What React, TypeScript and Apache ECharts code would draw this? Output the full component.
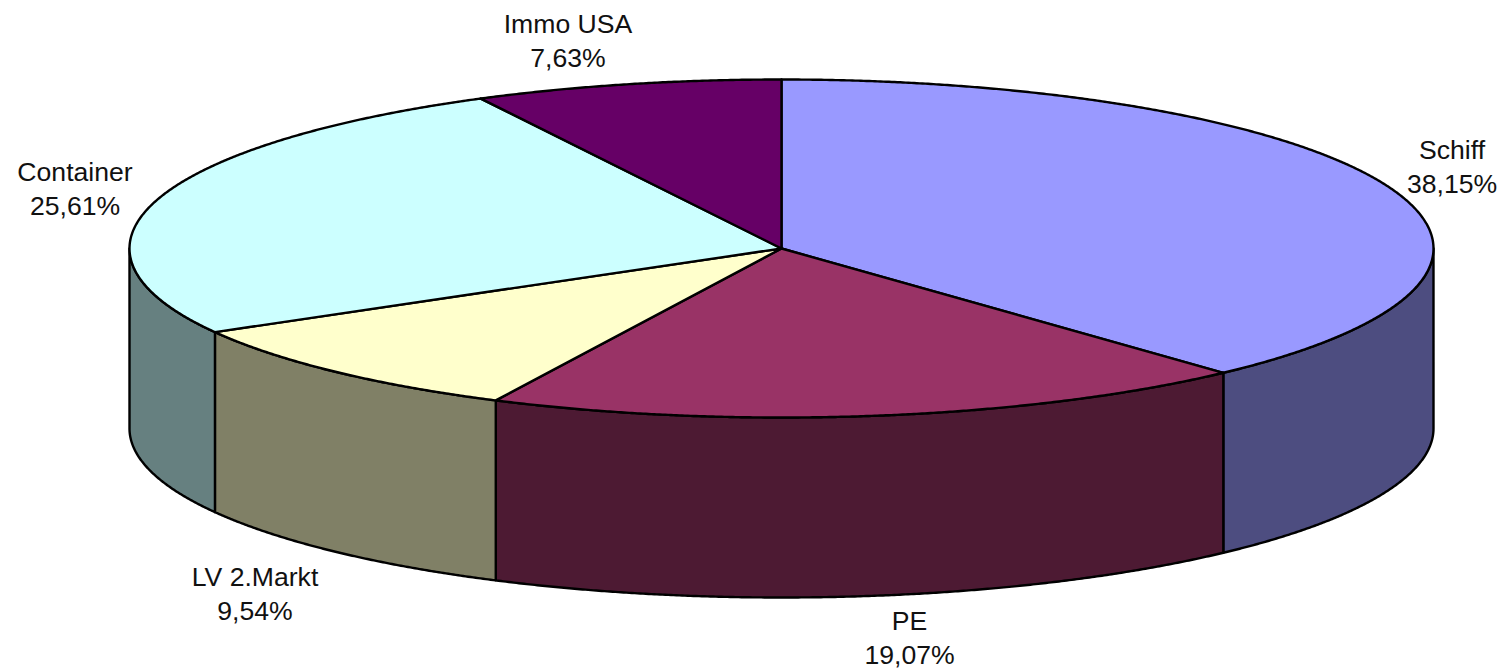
import React, { useEffect, useRef } from "react";
import * as echarts from "echarts";

const categories = ["Schiff", "PE", "LV 2.Markt", "Container", "Immo USA"];
const shares = [38.15, 19.07, 9.54, 25.61, 7.63];
const shareLabels = ["38,15%", "19,07%", "9,54%", "25,61%", "7,63%"];
const topColors = ["#9999FF", "#993366", "#FFFFCC", "#CCFFFF", "#660066"];
const sideColors = ["#4D4D80", "#4D1A33", "#808066", "#668080", "#330033"];
const labelCenters = [
  [1452, 167],
  [909.5, 638],
  [255, 594],
  [75, 189],
  [568, 41],
];

const CX = 781.5;
const CY = 248.5;
const RX = 652;
const RY = 169;
const DEPTH = 180;
const FONT = '"Liberation Sans", Arial, sans-serif';
const total = shares.reduce((a, b) => a + b, 0);

const pt = (turn: number, dy = 0) => {
  const t = turn * 2 * Math.PI;
  return [CX + RX * Math.sin(t), CY - RY * Math.cos(t) + dy];
};

// Points along the rim between two turns (fractions of the full pie).
const rim = (a: number, b: number, dy = 0) => {
  const n = Math.max(2, Math.ceil(Math.abs(b - a) * 1440));
  const out: number[][] = [];
  for (let k = 0; k <= n; k++) out.push(pt(a + ((b - a) * k) / n, dy));
  return out;
};

const renderItem = (params: any, api: any) => {
  const i = params.dataIndex;
  let before = 0;
  for (let k = 0; k < i; k++) before += shares[k];
  const v = api.value(0);
  const a0 = before / total;
  const a1 = (before + v) / total;
  const line = { stroke: "#000", lineWidth: 2.4, lineJoin: "round" };
  const children: any[] = [];
  // visible front wall: the part of the rim between turn 0.25 and 0.75
  const s0 = Math.max(a0, 0.25);
  const s1 = Math.min(a1, 0.75);
  if (s1 > s0) {
    children.push({
      type: "polygon",
      shape: { points: [...rim(s0, s1), ...rim(s1, s0, DEPTH)] },
      style: { fill: sideColors[i], ...line },
    });
  }
  children.push({
    type: "polygon",
    shape: { points: [[CX, CY], ...rim(a0, a1)] },
    style: { fill: topColors[i], ...line },
  });
  children.push({
    type: "text",
    x: labelCenters[i][0],
    y: labelCenters[i][1],
    style: {
      text: `${categories[i]}\n${shareLabels[i]}`,
      fill: "#111",
      font: `26.6px ${FONT}`,
      lineHeight: 34,
      align: "center",
      verticalAlign: "middle",
    },
  });
  return { type: "group", children };
};

export default function App() {
  const ref = useRef<HTMLDivElement>(null);
  useEffect(() => {
    const chart = echarts.init(ref.current!, undefined, { renderer: "svg" });
    chart.setOption({
      animation: false,
      backgroundColor: "#fff",
      series: [
        {
          type: "custom",
          coordinateSystem: "none",
          renderItem,
          data: shares.map((v, i) => ({ name: categories[i], value: [v] })),
          silent: true,
        },
      ],
    });
    return () => chart.dispose();
  }, []);
  return <div ref={ref} style={{ position: "fixed", left: 0, top: 0, width: 1504, height: 671 }} />;
}
